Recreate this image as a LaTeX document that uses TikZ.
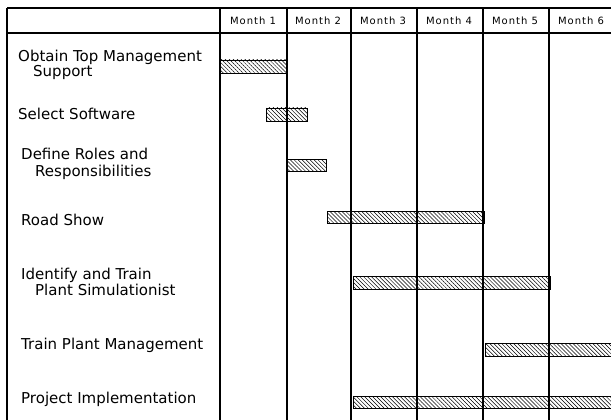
\documentclass[tikz,border=0pt]{standalone}
\usepackage{fontspec}
\newfontfamily\plotfont{DejaVu Sans}
\newfontfamily\monthfont[LetterSpace=10]{DejaVu Sans}
\usetikzlibrary{patterns.meta}

\begin{document}
\begin{tikzpicture}[x=1pt,y=-1pt,
    gridline/.style={line width=1.1pt},
    taskbar/.style={draw,line width=0.8pt,pattern={Lines[angle=-45,distance=2.8pt,line width=0.5pt]}},
    task/.style={anchor=base west,inner sep=0pt,font=\plotfont\fontsize{15}{18}\selectfont},
    month/.style={anchor=base,inner sep=0pt,font=\monthfont\fontsize{10}{12}\selectfont}]
        \useasboundingbox (0,0) rectangle (611,420);
        \clip (0,0) rectangle (611,420);
        % table frame and month columns
        \draw[gridline] (7,8) -- (611,8);
        \draw[gridline] (7,33) -- (611,33);
        \draw[gridline] (7,8) -- (7,420);
        \foreach \x in {220,287,351,417,483,549}
            \draw[gridline] (\x,8) -- (\x,420);
        \foreach \x/\m in {253/1,318/2,383/3,449/4,515/5,581/6}
            \node[month] (m\m) at (\x,25) {Month \m};
        % tasks
        \node[task] (obtain) at (18,62) {Obtain Top Management};
        \node[task] (obtainb) at (33,77) {Support};
        \node[task] (select) at (18,119) {Select Software};
        \node[task] (roles) at (21,159) {Define Roles and};
        \node[task] (rolesb) at (35,176) {Responsibilities};
        \node[task] (road) at (21,225) {Road Show};
        \node[task] (identify) at (21,279) {Identify and Train};
        \node[task] (identifyb) at (35,295) {Plant Simulationist};
        \node[task] (trainmgmt) at (21,349) {Train Plant Management};
        \node[task] (implement) at (21,403) {Project Implementation};
        % bars
        \draw[taskbar] (220,60) rectangle (286,73);
        \draw[taskbar] (266,108) rectangle (307,121);
        \draw[taskbar] (287,159) rectangle (326,171);
        \draw[taskbar] (327,211) rectangle (484,223);
        \draw[taskbar] (353,276) rectangle (550,289);
        \draw[taskbar] (485,343) rectangle (620,356);
        \draw[taskbar] (353,396) rectangle (620,408);
\end{tikzpicture}
\end{document}
